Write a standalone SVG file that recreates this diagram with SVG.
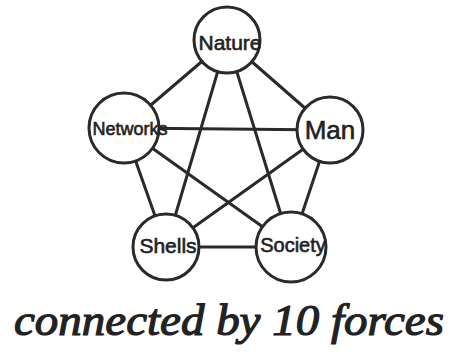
<svg xmlns="http://www.w3.org/2000/svg" width="455" height="354" viewBox="0 0 455 354">
<style>
.edge{stroke:#2a2a2a;stroke-width:3;stroke-linecap:round;fill:none}
.node circle{fill:#fff;stroke:#2a2a2a;stroke-width:3}
.node text{font-family:"Liberation Sans","DejaVu Sans",sans-serif;fill:#222;stroke:#222;stroke-width:0.6;text-anchor:middle;dominant-baseline:central}
.cap{font-family:"Liberation Serif","DejaVu Serif",serif;font-style:italic;fill:#222;stroke:#222;stroke-width:1.2}
</style>
<rect width="455" height="354" fill="#fff"/>
<g id="connectors">
<line class="edge" x1="227" y1="40" x2="124" y2="128"/>
<line class="edge" x1="227" y1="40" x2="330" y2="130"/>
<line class="edge" x1="227" y1="40" x2="166" y2="247"/>
<line class="edge" x1="227" y1="40" x2="291" y2="247"/>
<line class="edge" x1="124" y1="128" x2="330" y2="130"/>
<line class="edge" x1="124" y1="128" x2="166" y2="247"/>
<line class="edge" x1="124" y1="128" x2="291" y2="247"/>
<line class="edge" x1="330" y1="130" x2="166" y2="247"/>
<line class="edge" x1="330" y1="130" x2="291" y2="247"/>
<line class="edge" x1="166" y1="247" x2="291" y2="247"/>
</g>
<g id="nature" class="node"><circle cx="227" cy="40" r="33"/><text x="230" y="42" font-size="21">Nature</text></g>
<g id="networks" class="node"><circle cx="124" cy="128" r="35"/><text x="130" y="129" font-size="18">Networks</text></g>
<g id="man" class="node"><circle cx="330" cy="130" r="33"/><text x="330" y="130" font-size="26">Man</text></g>
<g id="shells" class="node"><circle cx="166" cy="247" r="33"/><text x="168" y="245" font-size="21">Shells</text></g>
<g id="society" class="node"><circle cx="291" cy="247" r="35"/><text x="293" y="245" font-size="20">Society</text></g>
<text class="cap" x="14" y="335" font-size="44" textLength="430" lengthAdjust="spacingAndGlyphs">connected by 10 forces</text>
</svg>
